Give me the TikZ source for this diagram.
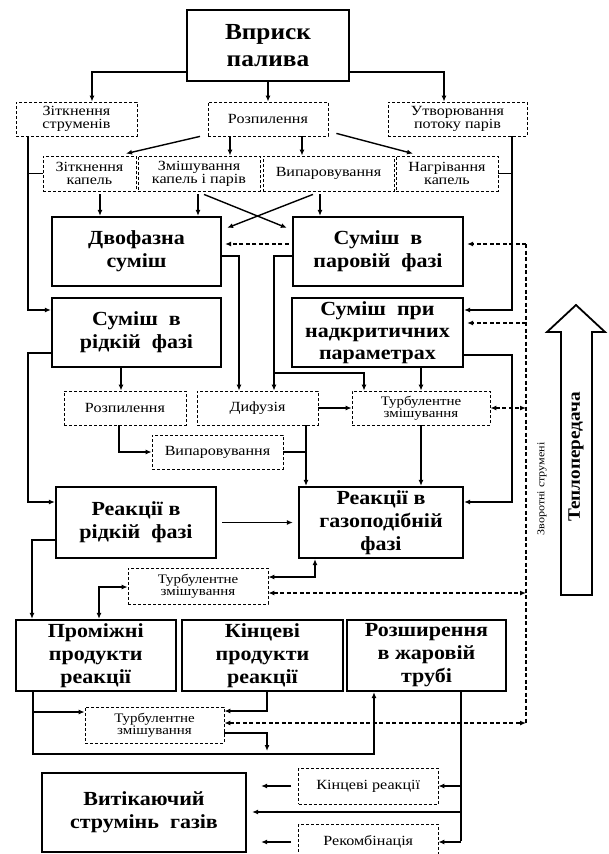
\documentclass[tikz,border=0pt]{standalone}
\usepackage{fontspec}
\setmainfont{Liberation Serif}
\newfontfamily\stretchfont{Liberation Serif}[FakeStretch=1.1]
\newfontfamily\stretchthin{Liberation Serif}[FakeStretch=1.15]
\usetikzlibrary{arrows.meta}
\begin{document}
\begin{tikzpicture}[x=1pt,y=-1pt,
  tb/.style={draw, line width=2.2pt, align=center, inner sep=0pt, font=\stretchfont\bfseries\fontsize{20}{23}\selectfont},
  db/.style={draw, line width=0.8pt, dash pattern=on 3pt off 2pt, align=center, inner sep=0pt, font=\stretchthin\fontsize{14}{13}\selectfont},
  ds/.style={db, font=\stretchthin\fontsize{13}{12.5}\selectfont},
  tip/.tip={Latex[length=6pt,width=5pt]},
  ln/.style={line width=1.4pt},
  arr/.style={ln, -tip},
  arrb/.style={ln, tip-tip},
  dl/.style={line width=1.4pt, dash pattern=on 4pt off 2.5pt},
  darr/.style={dl, -tip},
  darrb/.style={dl, tip-tip},
]
\useasboundingbox (0,0) rectangle (608,854);
\clip (0,0) rectangle (608,854);

% thick boxes
\node[tb, minimum width=162pt, minimum height=71pt, font=\stretchfont\bfseries\fontsize{23}{27}\selectfont] (inj) at (268,45.5) {Вприск\\палива};
\node[tb, minimum width=169pt, minimum height=69pt] (twoph) at (136.5,251.5) {Двофазна\\суміш};
\node[tb, minimum width=170pt, minimum height=69pt] (vap) at (378,251.5) {Суміш\ \ в\\паровій\ \ фазі};
\node[tb, minimum width=169pt, minimum height=69pt] (liq) at (136.5,332.5) {Суміш\ \ в\\рідкій\ \ фазі};
\node[tb, minimum width=171pt, minimum height=69pt, font=\stretchfont\bfseries\fontsize{20}{22}\selectfont] (super) at (377.5,332.5) {Суміш\ \ при\\надкритичних\\параметрах};
\node[tb, minimum width=160pt, minimum height=71pt] (rliq) at (136,522.5) {Реакції в\\рідкій\ \ фазі};
\node[tb, minimum width=164pt, minimum height=71pt] (rgas) at (381,522.5) {Реакції в\\газоподібній\\фазі};
\node[tb, minimum width=160pt, minimum height=71pt] (inter) at (95.75,655.5) {Проміжні\\продукти\\реакції};
\node[tb, minimum width=161pt, minimum height=71pt] (final) at (262.5,655.5) {Кінцеві\\продукти\\реакції};
\node[tb, minimum width=159pt, minimum height=71pt] (expan) at (426.5,655.5) {Розширення\\в жаровій\\трубі};
\node[tb, minimum width=204pt, minimum height=79pt] (exhaust) at (144,812.5) {Витікаючий\\струмінь\ \ газів};

% dashed boxes
\node[db, minimum width=121pt, minimum height=34pt] (jets) at (76.5,119) {Зіткнення\\струменів};
\node[db, minimum width=120pt, minimum height=34pt] (atom1) at (268,119) {Розпилення};
\node[db, minimum width=139pt, minimum height=34pt] (vflow) at (457.5,119) {Утворювання\\потоку парів};
\node[db, minimum width=93pt, minimum height=35pt] (dropcol) at (89.5,173.5) {Зіткнення\\капель};
\node[db, minimum width=122pt, minimum height=35pt] (mixdp) at (199,173.5) {Змішування\\капель і парів};
\node[db, minimum width=131pt, minimum height=35pt] (evap1) at (328.5,173.5) {Випаровування};
\node[db, minimum width=102pt, minimum height=35pt] (heatd) at (447,173.5) {Нагрівання\\капель};
\node[db, minimum width=122pt, minimum height=34pt] (atom2) at (125,408) {Розпилення};
\node[db, minimum width=121pt, minimum height=34pt] (diff) at (257.5,408) {Дифузія};
\node[ds, minimum width=138pt, minimum height=34pt] (turb1) at (421,408) {Турбулентне\\змішування};
\node[db, minimum width=131pt, minimum height=34pt] (evap2) at (217.5,452) {Випаровування};
\node[ds, minimum width=140pt, minimum height=36pt] (turb2) at (198,586) {Турбулентне\\змішування};
\node[ds, minimum width=139pt, minimum height=36pt] (turb3) at (154.5,725) {Турбулентне\\змішування};
\node[db, minimum width=139.5pt, minimum height=36pt] (fre) at (368.25,786) {Кінцеві реакції};
\node[db, minimum width=139.5pt, minimum height=36pt] (recomb) at (368.25,842) {Рекомбінація};

% coordinates
\coordinate (k1) at (92,72);
\coordinate (k2) at (444,72);
\coordinate (k3) at (230,140);
\coordinate (k3b) at (302,140);
\coordinate (k4) at (28,310);
\coordinate (k5) at (512,310);
\coordinate (k6) at (100,200);
\coordinate (k6b) at (198,200);
\coordinate (k6c) at (320,200);
\coordinate (k7) at (239,256);
\coordinate (k8) at (274,256);
\coordinate (k9) at (274,373);
\coordinate (k10) at (364,373);
\coordinate (k11) at (421,380);
\coordinate (k12) at (121,380);
\coordinate (k13) at (28,502);
\coordinate (k14) at (512,502);
\coordinate (k15) at (306,450);
\coordinate (k16) at (119,452);
\coordinate (k17) at (32,540);
\coordinate (k18) at (315,577);
\coordinate (k19) at (99,587);
\coordinate (k20) at (33,754);
\coordinate (k21) at (374,754);
\coordinate (k22) at (33,712);
\coordinate (k23) at (267,711);
\coordinate (k24) at (267,733);
\coordinate (k25) at (267,751);
\coordinate (k26) at (461,841);
\coordinate (k27) at (461,812);
\coordinate (r0) at (526,244);
\coordinate (r1) at (526,408);
\coordinate (r2) at (526,323);
\coordinate (r3) at (526,593);
\coordinate (r9) at (526,723);

% top connectors
\draw[arr] (inj.west|-k1) -- (k1) -- (k1|-jets.north);
\draw[arr] (inj.south) -- (atom1.north);
\draw[arr] (inj.east|-k2) -- (k2) -- (k2|-vflow.north);
\draw[arr] ([xshift=-68pt]atom1.south) -- ([xshift=36.5pt,yshift=2pt]dropcol.north);
\draw[arr] (k3|-atom1.south) -- (k3|-mixdp.north);
\draw[arr] (k3b|-atom1.south) -- (k3b|-mixdp.north);
\draw[arr] ([xshift=8pt,yshift=3pt]atom1.south east) -- ([xshift=-34pt,yshift=2pt]heatd.north);
\draw[arr] (k4|-jets.south) -- (k4) -- (k4-|liq.west);
\draw[ln] (dropcol.west) -- (dropcol.west-|k4);
\draw[arr] (k5|-vflow.south) -- (k5) -- (k5-|super.east);
\draw[ln] (heatd.east) -- (heatd.east-|k5);
\draw[arr] ([yshift=-3pt]k6|-dropcol.south) -- (k6|-twoph.north);
\draw[arr] ([yshift=-3pt]k6b|-mixdp.south) -- (k6b|-twoph.north);
\draw[arr] ([yshift=-3pt]k6c|-evap1.south) -- (k6c|-vap.north);
\draw[arr] ([xshift=5pt,yshift=-3pt]mixdp.south) -- ([xshift=-5pt,yshift=-12pt]vap.north west);
\draw[arr] ([xshift=-15.5pt,yshift=-3pt]evap1.south) -- ([xshift=5pt,yshift=-12pt]twoph.north east);
\draw[darr, shorten <=3pt, shorten >=3pt] ([yshift=7.5pt]vap.west) -- ([yshift=7.5pt]twoph.east);

% middle connectors
\draw[arr] ([yshift=-4.5pt]twoph.east) -- (k7) -- (k7|-diff.north);
\draw[arr] ([yshift=-4.5pt]vap.west) -- (k8) -- (k8|-diff.north);
\draw[arr] (k9) -- (k10) -- (k10|-turb1.north);
\draw[arr] (k11|-super.south) -- (k11|-turb1.north);
\draw[arr] (k12|-liq.south) -- (k12|-atom2.north);
\draw[arr] ([yshift=-20.5pt]liq.west) -| (k13) -- (k13-|rliq.west);
\draw[arr] ([yshift=-22.5pt]super.east) -| (k14) -- (k14-|rgas.east);
\draw[arr] (diff.east) -- (turb1.west);
\draw[darrb] (turb1.east) -- (r1);
\draw[arr] (k11|-turb1.south) -- (k11|-rgas.north);
\draw[arr] (k15|-diff.south) -- (k15|-rgas.north);
\draw[arr] (k16|-atom2.south) -- (k16) -- (evap2.west);
\draw[ln] (evap2.east) -- (evap2.east-|k15);

% return flows (dashed)
\draw[dl] (r0) -- (r9);
\draw[darr, shorten >=3pt] (r0) -- (r0-|vap.east);
\draw[darr, shorten >=3pt] (r2) -- (r2-|super.east);

% lower connectors
\draw[arr, shorten <=5pt, shorten >=5pt] (rliq.east) -- (rgas.west);
\draw[arr] ([yshift=-17.5pt]rliq.west) -| (k17|-inter.north);
\draw[arrb] ([yshift=9pt]turb2.east) -- (k18) -- (k18|-rgas.south);
\draw[darrb] ([yshift=-7pt]turb2.east) -- (r3);
\draw[arrb] (k19|-inter.north) -- (k19) -- (k19-|turb2.west);
\draw[arr] (k20|-inter.south) -- (k20) -- (k21) -- (k21|-expan.south);
\draw[arr] (k22) -- (k22-|turb3.west);
\draw[arr] (k23|-final.south) -- (k23) -- (k23-|turb3.east);
\draw[arr] (k24-|turb3.east) -- (k24) -- (k25);
\draw[darrb] (r9-|turb3.east) -- (r9);
\draw[ln] (k26|-expan.south) -- (k26);
\draw[arr] (fre.east-|k26) -- (fre.east);
\draw[arr] (recomb.east-|k26) -- (recomb.east);
\draw[arr, shorten >=5pt] (k27) -- (k27-|exhaust.east);
\draw[arr, shorten <=7pt, shorten >=14pt] (fre.west) -- (fre.west-|exhaust.east);
\draw[arr, shorten <=7pt, shorten >=14pt] (recomb.west) -- (recomb.west-|exhaust.east);

% heat transfer arrow
\draw[line width=1.8pt, fill=white] (561,595) -- (561,332) -- (547,332) -- (576,305) -- (605,332) -- (592,332) -- (592,595) -- cycle;
\node[rotate=90, font=\stretchfont\bfseries\fontsize{17.5}{17.5}\selectfont] (heatlbl) at (576,457) {Теплопередача};
\node[rotate=90, font=\stretchthin\fontsize{10.5}{10.5}\selectfont] (retlbl) at (542,489) {Зворотні струмені};
\end{tikzpicture}
\end{document}
